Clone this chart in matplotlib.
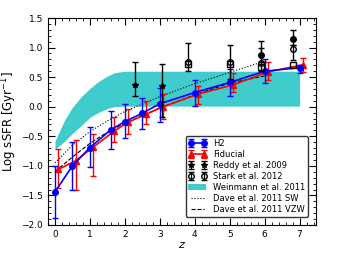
import numpy as np
import matplotlib
matplotlib.use("Agg")
import matplotlib.pyplot as plt
from matplotlib.ticker import MultipleLocator

# H2 model
z_h2 = [0, 0.5, 1, 1.6, 2, 2.5, 3, 4, 5, 6, 7]
ssfr_h2 = [-1.44, -1.0, -0.69, -0.39, -0.25, -0.11, 0.05, 0.24, 0.41, 0.60, 0.66]
h2_hi = [-1.01, -0.60, -0.34, -0.08, 0.04, 0.14, 0.32, 0.46, 0.63, 0.80, 0.71]
h2_lo = [-1.88, -1.40, -1.02, -0.72, -0.53, -0.37, -0.25, 0.02, 0.18, 0.40, 0.565]

# Fiducial model
z_fid = [0.1, 0.6, 1.1, 1.7, 2.1, 2.6, 3.1, 4.1, 5.1, 6.1, 7.1]
ssfr_fid = [-1.06, -0.91, -0.68, -0.41, -0.26, -0.13, 0.0, 0.215, 0.37, 0.59, 0.71]
fid_hi = [-0.71, -0.56, -0.46, -0.17, -0.04, 0.10, 0.21, 0.355, 0.565, 0.76, 0.83]
fid_lo = [-1.37, -1.41, -1.17, -0.60, -0.46, -0.29, -0.21, 0.04, 0.245, 0.45, 0.59]

# Reddy et al. 2009
z_reddy = [2.3, 3.05]
ssfr_reddy = [0.37, 0.35]
reddy_hi = [0.75, 0.73]
reddy_lo = [0.18, -0.17]

# Stark et al. 2012
z_stark = [3.8, 5.0, 5.9, 6.8]
ssfr_stark = [0.76, 0.76, 0.74, 0.97]
stark_hi = [1.08, 1.05, 1.11, 1.04]
stark_lo = [0.61, 0.47, 0.60, 0.79]

# extra unlabelled points
z_sq = [3.8, 5.0, 5.9, 6.8]
ssfr_sq = [0.72, 0.72, 0.67, 0.71]
z_fc = [5.9, 6.8]
ssfr_fc = [0.88, 1.145]
fc_hi = [1.0, 1.29]
fc_lo = [0.76, 1.04]

# Weinmann et al. 2011 band
z_wein = [0, 0.28, 0.5, 0.75, 1.0, 1.23, 1.5, 1.7, 2.0, 2.5, 3, 4, 5, 6, 7]
wein_top = [-0.58, -0.22, -0.01, 0.17, 0.31, 0.42, 0.52, 0.575, 0.6, 0.6, 0.6, 0.6, 0.6, 0.6, 0.6]
wein_bot = [-0.72, -0.58, -0.45, -0.32, -0.18, -0.1, -0.03, 0.0, 0.01, 0.01, 0.01, 0.01, 0.01, 0.01, 0.01]

# Dave et al. 2011
z_dave = [0, 0.5, 1, 1.5, 2, 3, 4, 5, 6]
dave_sw = [-0.95, -0.65, -0.42, -0.24, -0.08, 0.17, 0.39, 0.58, 0.77]
dave_vzw = [-1.1, -0.85, -0.62, -0.43, -0.28, -0.02, 0.2, 0.4, 0.52]


def asym(v, hi, lo):
    v = np.array(v); hi = np.array(hi); lo = np.array(lo)
    return [v - lo, hi - v]


fig = plt.figure(figsize=(3.44, 2.58), dpi=100)
ax = fig.add_axes([48/344, 1-225/258, (316-48)/344, (225-18)/258])

ax.fill_between(z_wein, wein_bot, wein_top, color='#40cccc', lw=0,
                label='Weinmann et al. 2011', zorder=1)

ax.plot(z_dave, dave_sw, ':', color='k', lw=0.8, label='Dave et al. 2011 SW', zorder=2)
ax.plot(z_dave, dave_vzw, '--', color='k', lw=0.8, label='Dave et al. 2011 VZW', zorder=2)

ax.errorbar(z_h2, ssfr_h2, yerr=asym(ssfr_h2, h2_hi, h2_lo), fmt='-o', color='#0000ff',
            ecolor='#0000ff', ms=4, lw=1.2, elinewidth=1, capsize=2, capthick=1,
            label='H2', zorder=4)
ax.errorbar(z_fid, ssfr_fid, yerr=asym(ssfr_fid, fid_hi, fid_lo), fmt='-^', color='#ff0000',
            ecolor='#ff0000', ms=4, lw=1.2, elinewidth=1, capsize=2, capthick=1,
            label='Fiducial', zorder=3)

ax.errorbar(z_reddy, ssfr_reddy, yerr=asym(ssfr_reddy, reddy_hi, reddy_lo), fmt='*',
            color='k', ms=4, elinewidth=1, capsize=2, label='Reddy et al. 2009', zorder=5)
ax.errorbar(z_stark, ssfr_stark, yerr=asym(ssfr_stark, stark_hi, stark_lo), fmt='o',
            mfc='none', mec='k', color='k', ms=4, elinewidth=1, capsize=2,
            label='Stark et al. 2012', zorder=5)
ax.plot(z_sq, ssfr_sq, 's', mfc='none', mec='k', ms=4, zorder=5)
ax.errorbar(z_fc, ssfr_fc, yerr=asym(ssfr_fc, fc_hi, fc_lo), fmt='o', color='k',
            ms=4, elinewidth=1, capsize=2, zorder=5)

ax.set_xlim(-0.2, 7.47)
ax.set_ylim(-2.0, 1.5)
ax.xaxis.set_major_locator(MultipleLocator(1))
ax.xaxis.set_minor_locator(MultipleLocator(0.2))
ax.yaxis.set_major_locator(MultipleLocator(0.5))
ax.yaxis.set_minor_locator(MultipleLocator(0.1))
ax.tick_params(which='both', direction='in', top=True, right=True, labelsize=6.5)
ax.tick_params(which='major', length=5)
ax.tick_params(which='minor', length=2.5)
ax.set_xlabel('$z$', fontsize=8, labelpad=1)
ax.set_ylabel('Log sSFR [Gyr$^{-1}$]', fontsize=8.5)
ax.yaxis.set_label_coords(-0.11, 0.5)

handles, labels = ax.get_legend_handles_labels()
order = ['H2', 'Fiducial', 'Reddy et al. 2009', 'Stark et al. 2012',
         'Weinmann et al. 2011', 'Dave et al. 2011 SW', 'Dave et al. 2011 VZW']
hd = dict(zip(labels, handles))
ax.legend([hd[k] for k in order], order, loc='lower right', fontsize=6,
          numpoints=2, frameon=True, edgecolor='k', fancybox=True,
          borderpad=0.3, labelspacing=0.25, handlelength=2.2,
          bbox_to_anchor=(0.985, 0.02))

fig.savefig('out.png', dpi=100)
